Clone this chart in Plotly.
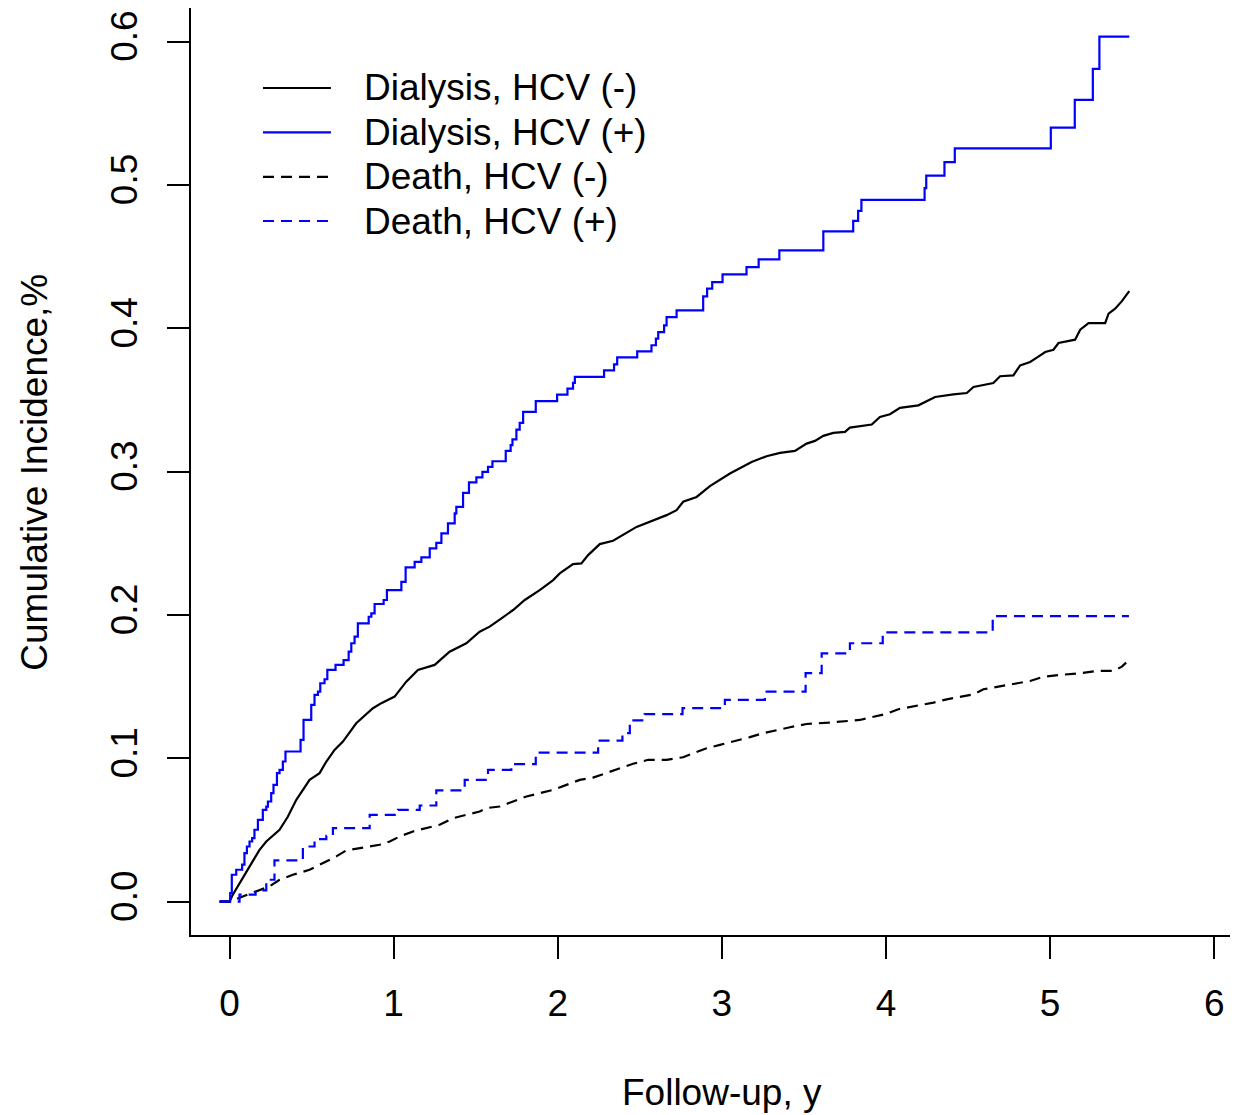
import plotly.graph_objects as go

# ---- data ----
dial_neg_t = [-0.06, 0, 0.020, 0.081, 0.122, 0.183, 0.224, 0.305, 0.356, 0.407, 0.488, 0.549, 0.59, 0.640,
              0.691, 0.772, 0.874, 0.925, 1.006, 1.077, 1.148, 1.25, 1.341, 1.443, 1.524, 1.585, 1.657, 1.728,
              1.799, 1.89, 1.972, 2.012, 2.093, 2.144, 2.185, 2.256, 2.337, 2.48, 2.663, 2.724, 2.764, 2.846,
              2.927, 3.049, 3.181, 3.272, 3.354, 3.445, 3.516, 3.567, 3.618, 3.679, 3.75, 3.78, 3.913, 3.963,
              4.024, 4.085, 4.197, 4.238, 4.299, 4.41, 4.492, 4.533, 4.583, 4.654, 4.695, 4.776, 4.817, 4.878,
              4.919, 4.97, 5.02, 5.051, 5.152, 5.183, 5.234, 5.335, 5.356, 5.396, 5.437, 5.468, 5.482]
dial_neg_v = [0, 0, 0.0049, 0.0165, 0.0246, 0.0362, 0.042, 0.0502, 0.0594, 0.0711, 0.085, 0.0897, 0.0978,
              0.1059, 0.1117, 0.1245, 0.135, 0.1385, 0.1431, 0.1535, 0.1617, 0.1652, 0.1744, 0.1803, 0.1884,
              0.1919, 0.1977, 0.2035, 0.2105, 0.2174, 0.2244, 0.229, 0.2355, 0.236, 0.2418, 0.2495, 0.2518,
              0.2615, 0.2697, 0.2732, 0.279, 0.2824, 0.2899, 0.2987, 0.3068, 0.3108, 0.3131, 0.3145, 0.3196,
              0.3215, 0.325, 0.3271, 0.3278, 0.3308, 0.3329, 0.3382, 0.3401, 0.3445, 0.3463, 0.3487, 0.3521,
              0.354, 0.3549, 0.3591, 0.3603, 0.3619, 0.3666, 0.3672, 0.3742, 0.3765, 0.3796, 0.3835, 0.3851,
              0.3898, 0.3921, 0.3991, 0.4037, 0.4037, 0.4102, 0.4137, 0.419, 0.4242, 0.426]

dial_pos_t = [-0.06, 0.004, 0.014, 0.041, 0.077, 0.091, 0.106, 0.122, 0.138, 0.152, 0.173, 0.203, 0.224,
              0.234, 0.254, 0.268, 0.289, 0.305, 0.325, 0.341, 0.433, 0.451, 0.498, 0.518, 0.539, 0.553,
              0.579, 0.596, 0.646, 0.695, 0.726, 0.742, 0.762, 0.782, 0.848, 0.864, 0.884, 0.939, 0.959,
              1.047, 1.073, 1.128, 1.169, 1.22, 1.26, 1.291, 1.331, 1.372, 1.382, 1.423, 1.459, 1.504, 1.541,
              1.575, 1.602, 1.683, 1.713, 1.724, 1.748, 1.768, 1.789, 1.866, 1.996, 2.059, 2.093, 2.104,
              2.282, 2.343, 2.362, 2.484, 2.571, 2.598, 2.612, 2.648, 2.663, 2.724, 2.886, 2.91, 2.941, 3.004,
              3.15, 3.224, 3.35, 3.618, 3.80, 3.83, 3.85, 4.235, 4.245, 4.356, 4.419, 5.004, 5.15, 5.26, 5.30,
              5.482]
dial_pos_v = [0, 0.006, 0.0188, 0.0223, 0.0258, 0.0339, 0.0385, 0.042, 0.0444, 0.0502, 0.0571, 0.0641,
              0.0664, 0.0699, 0.0757, 0.0815, 0.0897, 0.092, 0.0978, 0.1048, 0.1129, 0.1268, 0.1373, 0.1443,
              0.1466, 0.1524, 0.1552, 0.1617, 0.1652, 0.1686, 0.1744, 0.1803, 0.1849, 0.1942, 0.1988, 0.2012,
              0.2077, 0.2105, 0.2174, 0.2232, 0.2332, 0.2371, 0.2402, 0.2465, 0.2504, 0.2569, 0.2639, 0.2709,
              0.2755, 0.2852, 0.2925, 0.2960, 0.2999, 0.3033, 0.3073, 0.3145, 0.3185, 0.3226, 0.3294, 0.3340,
              0.3417, 0.3493, 0.3538, 0.3580, 0.3619, 0.3661, 0.3707, 0.3749, 0.3798, 0.3840, 0.3882, 0.3928,
              0.3974, 0.4021, 0.4079, 0.4125, 0.4223, 0.4277, 0.4323, 0.4376, 0.4427, 0.4481, 0.4544, 0.4676,
              0.475, 0.482, 0.4896, 0.4978, 0.5066, 0.516, 0.5256, 0.540, 0.5594, 0.581, 0.6035, 0.6035]

death_neg_t = [-0.06, 0, 0.081, 0.163, 0.244, 0.305, 0.386, 0.488, 0.569, 0.651, 0.711, 0.793, 0.915, 0.976,
               1.037, 1.118, 1.199, 1.28, 1.362, 1.443, 1.524, 1.565, 1.646, 1.728, 1.809, 1.89, 1.972, 2.053,
               2.134, 2.215, 2.297, 2.378, 2.459, 2.551, 2.663, 2.764, 2.825, 2.907, 2.988, 3.069, 3.171,
               3.252, 3.333, 3.415, 3.516, 3.648, 3.84, 4.0, 4.075, 4.187, 4.289, 4.37, 4.451, 4.533, 4.593,
               4.695, 4.776, 4.878, 4.959, 5.061, 5.183, 5.285, 5.386, 5.437, 5.463]
death_neg_v = [0, 0, 0.0037, 0.0072, 0.0107, 0.0153, 0.0188, 0.0223, 0.027, 0.0316, 0.0358, 0.0374, 0.0397,
               0.042, 0.0455, 0.049, 0.0513, 0.0537, 0.0583, 0.0606, 0.0629, 0.0653, 0.0664, 0.0699, 0.0734,
               0.0757, 0.078, 0.0815, 0.085, 0.0866, 0.0899, 0.0931, 0.0962, 0.099, 0.099, 0.1008, 0.1036,
               0.1071, 0.1094, 0.1117, 0.1148, 0.1176, 0.1199, 0.1217, 0.124, 0.1249, 0.1268, 0.131, 0.1343,
               0.1366, 0.1389, 0.1412, 0.1431, 0.1447, 0.1482, 0.1505, 0.1519, 0.154, 0.157, 0.1582, 0.1594,
               0.161, 0.161, 0.164, 0.1668]

death_pos_t = [-0.06, 0.061, 0.159, 0.224, 0.274, 0.447, 0.518, 0.59, 0.63, 0.854, 1.026, 1.159, 1.26, 1.433,
               1.575, 1.717, 1.866, 2.246, 2.394, 2.439, 2.53, 2.76, 3.018, 3.262, 3.51, 3.608, 3.78, 3.98,
               4.65, 5.48]
death_pos_v = [0, 0.0049, 0.0079, 0.0153, 0.0288, 0.0385, 0.0437, 0.046, 0.0513, 0.0606, 0.0641, 0.0671,
               0.0776, 0.085, 0.092, 0.096, 0.104, 0.1124, 0.1176, 0.1265, 0.1308, 0.135, 0.1408, 0.1466,
               0.1594, 0.1733, 0.1803, 0.1879, 0.1993, 0.1993]

series_names = ["Dialysis, HCV (-)", "Dialysis, HCV (+)", "Death, HCV (-)", "Death, HCV (+)"]
x_ticks = [0, 1, 2, 3, 4, 5, 6]
y_ticks = [0.0, 0.1, 0.2, 0.3, 0.4, 0.5, 0.6]
y_tick_labels = ["0.0", "0.1", "0.2", "0.3", "0.4", "0.5", "0.6"]
x_title = "Follow-up, y"
y_title = "Cumulative Incidence,%"

# ---- styling ----
FONT = "Liberation Sans, Arial, sans-serif"
FS = 37
BLACK = "#000000"
BLUE = "#0000FF"
DASH = "11px,7px"
LW = 2.2

styles = [
    dict(color=BLACK, dash="solid", shape="linear"),
    dict(color=BLUE, dash="solid", shape="hv"),
    dict(color=BLACK, dash=DASH, shape="linear"),
    dict(color=BLUE, dash=DASH, shape="hv"),
]
data = [(dial_neg_t, dial_neg_v), (dial_pos_t, dial_pos_v),
        (death_neg_t, death_neg_v), (death_pos_t, death_pos_v)]

fig = go.Figure()
for (t, v), st, name in zip(data, styles, series_names):
    fig.add_trace(go.Scatter(
        x=t, y=v, mode="lines", name=name, showlegend=False,
        line=dict(color=st["color"], width=LW, dash=st["dash"], shape=st["shape"]),
        hoverinfo="skip",
    ))

# manual legend (R style)
leg_x0, leg_x1, leg_tx = 0.204, 0.618, 0.808
leg_rows = [0.5677, 0.5367, 0.5057, 0.4749]
for name, st, yy in zip(series_names, styles, leg_rows):
    fig.add_shape(type="line", xref="x", yref="y", x0=leg_x0, x1=leg_x1, y0=yy, y1=yy,
                  line=dict(color=st["color"], width=LW, dash=st["dash"]))
    fig.add_annotation(x=leg_tx, y=yy, xref="x", yref="y", text=name, showarrow=False,
                       xanchor="left", yanchor="middle",
                       font=dict(family=FONT, size=FS, color=BLACK))

# axis titles
fig.add_annotation(x=3, y=-0.1704, xref="x", yref="paper", text=x_title, showarrow=False,
                   xanchor="center", yanchor="middle", font=dict(family=FONT, size=FS, color=BLACK))
fig.add_annotation(x=-0.149, y=0.3, xref="paper", yref="y", text=y_title, showarrow=False,
                   textangle=-90, xanchor="center", yanchor="middle",
                   font=dict(family=FONT, size=FS, color=BLACK))

# page body adds an 8px offset; the figure is sized so that the plot lands where the reference has it
fig.update_layout(
    width=1230, height=1107,
    margin=dict(l=183, r=0, t=0, b=180),
    paper_bgcolor="white", plot_bgcolor="white",
    font=dict(family=FONT, size=FS, color=BLACK),
    xaxis=dict(range=[-0.2346, 6.1445], tickmode="array", tickvals=x_ticks,
               ticktext=[str(v) for v in x_ticks],
               showgrid=False, zeroline=False, showline=True, linecolor=BLACK, linewidth=2,
               ticks="outside", ticklen=22, tickwidth=2, tickcolor=BLACK,
               tickfont=dict(family=FONT, size=FS, color=BLACK), ticklabelstandoff=13),
    yaxis=dict(range=[-0.02323, 0.6235], tickmode="array", tickvals=y_ticks, ticktext=y_tick_labels,
               showgrid=False, zeroline=False, showline=True, linecolor=BLACK, linewidth=2,
               ticks="outside", ticklen=22, tickwidth=2, tickcolor=BLACK, tickangle=-90,
               tickfont=dict(family=FONT, size=FS, color=BLACK), ticklabelstandoff=15),
)

fig.write_html("out.html")
